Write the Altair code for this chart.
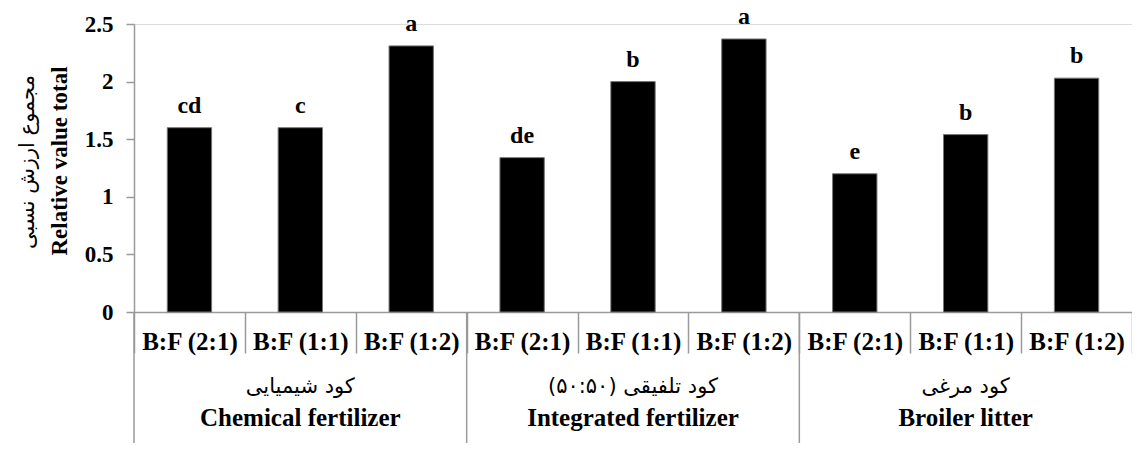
import altair as alt
import pandas as pd

groups_en = ["Chemical fertilizer", "Integrated fertilizer", "Broiler litter"]
groups_fa = ["کود شیمیایی", "\u200fکود تلفیقی (۵۰:۵۰)\u200f", "کود مرغی"]
ratios = ["B:F (2:1)", "B:F (1:1)", "B:F (1:2)"]
values = [1.60, 1.60, 2.31, 1.34, 2.00, 2.37, 1.20, 1.54, 2.03]
letters = ["cd", "c", "a", "de", "b", "a", "e", "b", "b"]
y_ticks = [0, 0.5, 1, 1.5, 2, 2.5]
y_title_en = ["Relative value total"]
y_title_fa = ["مجموع  ارزش نسبی"]

rows = []
for gi, g in enumerate(groups_en):
    for ri, r in enumerate(ratios):
        rows.append({"cat": f"{g}|{r}", "value": values[gi * 3 + ri],
                     "letter": letters[gi * 3 + ri]})
df = pd.DataFrame(rows)
order = list(df["cat"])

grp = pd.DataFrame({
    "first": [order[i * 3] for i in range(3)],
    "mid": [order[i * 3 + 1] for i in range(3)],
    "en": groups_en,
    "fa": groups_fa,
})

W, H = 998, 288
SERIF = "Liberation Serif, Times New Roman, serif"
FA = "DejaVu Sans"
GRAY = "#9a9a9a"

xscale = alt.Scale(domain=order, paddingInner=0, paddingOuter=0)
xaxis = alt.Axis(title=None, labelExpr="split(datum.value, '|')[1]",
                 ticks=True, tickBand="extent", tickSize=41, labelPadding=-24,
                 labelAngle=0, labelFont=SERIF, labelFontSize=25,
                 labelFontWeight="bold", labelColor="black", domainColor=GRAY,
                 tickColor=GRAY, domainWidth=1.5, tickWidth=1.5, labelLimit=0,
                 grid=False)


def xenc(field="cat", **kw):
    return alt.X(f"{field}:N", sort=order, scale=xscale, axis=xaxis, **kw)


yscale = alt.Scale(domain=[0, 2.5], nice=False)
yaxis = alt.Axis(title=None, values=y_ticks, format=".1~f", tickSize=8,
                 labelPadding=13, labelFont=SERIF, labelFontSize=23,
                 labelFontWeight="bold", labelColor="black", domainColor=GRAY,
                 tickColor=GRAY, domainWidth=1.5, tickWidth=1.5, grid=False)
yenc = alt.Y("value:Q", scale=yscale, axis=yaxis)

bars = alt.Chart(df).mark_bar(color="black", stroke="#777", strokeWidth=1,
                              width=alt.RelativeBandSize(0.4)).encode(
    x=xenc(), y=yenc)

lbls = alt.Chart(df).mark_text(font=SERIF, fontSize=24, fontWeight="bold",
                               baseline="alphabetic", dy=-15, color="black").encode(
    x=xenc(), y=yenc, text="letter:N")

seps = alt.Chart(grp).mark_rule(color=GRAY, strokeWidth=1.5).encode(
    x=xenc("first", bandPosition=0), y=alt.value(H), y2=alt.value(H + 131))

g_fa = alt.Chart(grp).mark_text(font=FA, fontSize=21, baseline="middle",
                                color="black").encode(
    x=xenc("mid"), y=alt.value(H + 75), text="fa:N")

g_en = alt.Chart(grp).mark_text(font=SERIF, fontSize=25, fontWeight="bold",
                                baseline="middle", color="black").encode(
    x=xenc("mid"), y=alt.value(H + 106), text="en:N")

yt_en = alt.Chart(pd.DataFrame({"t": y_title_en})).mark_text(
    font=SERIF, fontSize=23, fontWeight="bold", angle=270, baseline="middle",
    align="center", color="black").encode(
    x=alt.value(-74), y=alt.value(137), text="t:N")

yt_fa = alt.Chart(pd.DataFrame({"t": y_title_fa})).mark_text(
    font=FA, fontSize=21, angle=270, baseline="middle",
    align="center", color="black").encode(
    x=alt.value(-106), y=alt.value(138), text="t:N")

chart = alt.layer(bars, lbls, seps, g_fa, g_en, yt_en, yt_fa).properties(
    width=W, height=H,
    autosize=alt.AutoSizeParams(type="none"),
    padding={"left": 126, "top": 16, "right": 0, "bottom": 131},
).configure_view(stroke=None).configure(background="white")

chart.save("out.html", embed_options={"renderer": "svg", "actions": False})
